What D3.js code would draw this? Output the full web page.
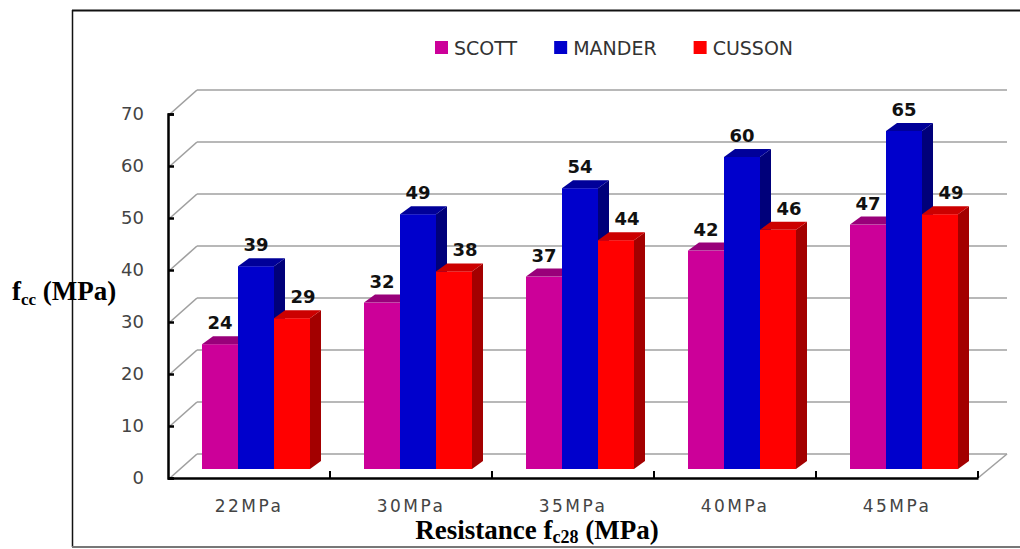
<!DOCTYPE html>
<html>
<head>
<meta charset="utf-8">
<script src="https://cdn.jsdelivr.net/npm/d3@7"></script>
<style>
  html, body { margin: 0; padding: 0; background: #fff; }
  svg { display: block; }
</style>
</head>
<body>
<svg id="chart" width="1020" height="549"></svg>
<script>
// Confined concrete strength by model and concrete grade
const categories = ["22MPa", "30MPa", "35MPa", "40MPa", "45MPa"];
const seriesNames = ["SCOTT", "MANDER", "CUSSON"];
const scott  = [24, 32, 37, 42, 47];
const mander = [39, 49, 54, 60, 65];
const cusson = [29, 38, 44, 46, 49];
const yTicks = [0, 10, 20, 30, 40, 50, 60, 70];

const seriesValues = [scott, mander, cusson];
const palette = {
  SCOTT:  { front: "#cc0099", side: "#8a0068", top: "#99007a" },
  MANDER: { front: "#0000cc", side: "#00007a", top: "#000099" },
  CUSSON: { front: "#ff0000", side: "#a30000", top: "#cc0000" }
};

const svg = d3.select("#chart");

// plot geometry (front plane of the 3-D box)
const left = 168, right = 978, base = 478, topY = 114;
const depth = { dx: 29, dy: -24 };       // floor / wall depth
const barShift = { dx: 0, dy: -9 };      // bars stand inside the box
const barDepth = { dx: 11, dy: -8 };     // thickness of each column

const x = d3.scaleBand().domain(categories).range([left, right]);
const xs = d3.scaleBand().domain(seriesNames).range([34, 142]);
const y = d3.scaleLinear().domain([0, 70]).range([base, topY]);

// outer frame
svg.append("line").attr("x1", 72.5).attr("x2", 72.5).attr("y1", 10).attr("y2", 547)
  .attr("stroke", "#111").attr("stroke-width", 1.5);
svg.append("line").attr("x1", 72).attr("x2", 1020).attr("y1", 10.5).attr("y2", 10.5)
  .attr("stroke", "#111").attr("stroke-width", 2);
svg.append("line").attr("x1", 72).attr("x2", 1020).attr("y1", 547).attr("y2", 547)
  .attr("stroke", "#777").attr("stroke-width", 2);

// back-wall gridlines and side-wall diagonals
const grid = svg.append("g").attr("stroke", "#a0a0a0").attr("stroke-width", 1.6).attr("fill", "none");
yTicks.forEach(v => {
  const yy = y(v);
  grid.append("line")
    .attr("x1", left + depth.dx).attr("y1", yy + depth.dy)
    .attr("x2", right + depth.dx).attr("y2", yy + depth.dy);
  grid.append("line")
    .attr("x1", left + 2).attr("y1", yy)
    .attr("x2", left + depth.dx).attr("y2", yy + depth.dy);
});
// floor right edge
grid.append("line")
  .attr("x1", right).attr("y1", base)
  .attr("x2", right + depth.dx).attr("y2", base + depth.dy);

// columns
const bars = svg.append("g");
categories.forEach((c, ci) => {
  seriesNames.forEach((s, si) => {
    const v = seriesValues[si][ci];
    const col = palette[s];
    const x0 = x(c) + xs(s) + barShift.dx;
    const w = xs.bandwidth();
    const yb = y(0) + barShift.dy;
    const yt = y(v) + barShift.dy;
    const g = bars.append("g");
    g.append("rect").attr("x", x0).attr("y", yt).attr("width", w).attr("height", yb - yt)
      .attr("fill", col.front);
    g.append("polygon")
      .attr("points", [[x0 + w, yt], [x0 + w + barDepth.dx, yt + barDepth.dy],
                       [x0 + w + barDepth.dx, yb + barDepth.dy], [x0 + w, yb]].join(" "))
      .attr("fill", col.side);
    g.append("polygon")
      .attr("points", [[x0, yt], [x0 + w, yt], [x0 + w + barDepth.dx, yt + barDepth.dy],
                       [x0 + barDepth.dx, yt + barDepth.dy]].join(" "))
      .attr("fill", col.top);
  });
});

// value labels
const labels = svg.append("g")
  .attr("font-family", "DejaVu Sans, sans-serif").attr("font-weight", "bold")
  .attr("font-size", 18).attr("fill", "#111").attr("text-anchor", "middle");
const labelNudge = { SCOTT: 0, MANDER: 0, CUSSON: 11 };
categories.forEach((c, ci) => {
  seriesNames.forEach((s, si) => {
    const v = seriesValues[si][ci];
    labels.append("text")
      .attr("x", x(c) + xs(s) + barShift.dx + xs.bandwidth() / 2 + labelNudge[s])
      .attr("y", y(v) + barShift.dy - 15)
      .text(v);
  });
});

// y axis (front edge)
const yAxis = d3.axisLeft(y).tickValues(yTicks).tickSize(-6).tickPadding(24);
const gy = svg.append("g").attr("transform", `translate(${left},0)`).call(yAxis);
gy.select(".domain").attr("stroke", "#000").attr("stroke-width", 2.5);
gy.selectAll(".tick line").attr("stroke", "#000").attr("stroke-width", 2.5);
gy.selectAll(".tick text")
  .attr("font-family", "DejaVu Sans, sans-serif").attr("font-size", 18)
  .attr("fill", "#444");

// x axis (front edge)
const xAxis = d3.axisBottom(x).tickSize(0).tickPadding(22);
const gx = svg.append("g").attr("transform", `translate(0,${base})`).call(xAxis);
gx.select(".domain").attr("stroke", "#000").attr("stroke-width", 2.5);
gx.selectAll(".tick text")
  .attr("font-family", "DejaVu Sans, sans-serif").attr("font-size", 17)
  .attr("letter-spacing", 2.5).attr("fill", "#444");
// category boundary ticks
categories.forEach(c => {
  const bx = x(c) + x.bandwidth();
  svg.append("line").attr("x1", bx).attr("x2", bx).attr("y1", base).attr("y2", base - 7)
    .attr("stroke", "#000").attr("stroke-width", 2);
});

// legend
const legend = svg.append("g").attr("font-family", "DejaVu Sans, sans-serif")
  .attr("font-size", 19).attr("fill", "#333");
let lx = 435;
seriesNames.forEach(s => {
  legend.append("rect").attr("x", lx).attr("y", 41).attr("width", 13).attr("height", 13)
    .attr("fill", palette[s].front);
  const t = legend.append("text").attr("x", lx + 19).attr("y", 55).text(s);
  lx += 19 + t.node().getComputedTextLength() + 37;
});

// axis titles
const yTitle = svg.append("text").attr("x", 12).attr("y", 300)
  .attr("font-family", "Liberation Serif, Times New Roman, serif")
  .attr("font-weight", "bold").attr("font-size", 27).attr("fill", "#000");
yTitle.append("tspan").text("f");
yTitle.append("tspan").attr("font-size", 17).attr("dy", 5).text("cc");
yTitle.append("tspan").attr("dy", -5).text(" (MPa)");

const xTitle = svg.append("text").attr("x", 537).attr("y", 539).attr("text-anchor", "middle")
  .attr("font-family", "Liberation Serif, Times New Roman, serif")
  .attr("font-weight", "bold").attr("font-size", 27).attr("fill", "#000");
xTitle.append("tspan").text("Resistance f");
xTitle.append("tspan").attr("font-size", 18).attr("dy", 4).text("c28");
xTitle.append("tspan").attr("dy", -4).text(" (MPa)");
</script>
</body>
</html>
